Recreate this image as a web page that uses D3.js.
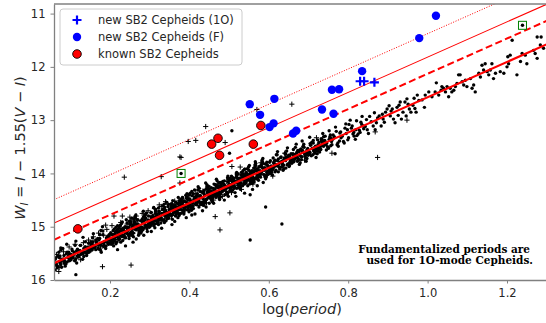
<!DOCTYPE html>
<html>
<head>
<meta charset="utf-8">
<script src="https://cdn.jsdelivr.net/npm/d3@7"></script>
<style>
  body { margin: 0; background: #fff; }
  svg { display: block; font-family: "DejaVu Sans", sans-serif; }
</style>
</head>
<body>
<div id="chart"></div>
<script>
// tick values
const xTicks = [0.2, 0.4, 0.6, 0.8, 1.0, 1.2];
const yTicks = [11, 12, 13, 14, 15, 16];

// PL relation W = a + b logP and the binary offsets drawn as red lines
const plZero = 15.88;
const plSlope = -3.31;
const lineOffsets = [0, -0.44, -0.753, -1.193];

const legendLabels = ['new SB2 Cepheids (1O)', 'new SB2 Cepheids (F)', 'known SB2 Cepheids'];
const noteLines = ['Fundamentalized periods are', 'used for 1O-mode Cepheids.'];

// new SB2 Cepheids, first overtone (fundamentalized periods)
const new1O = [[0.830, 12.27], [0.840, 12.27], [0.866, 12.29]];

// new SB2 Cepheids, fundamental mode
const newF = [
  [0.552, 12.70], [0.614, 12.60], [0.578, 12.90], [0.602, 13.13], [0.612, 13.06],
  [1.021, 11.04], [0.979, 11.46], [0.835, 12.08], [0.759, 12.43], [0.777, 12.42],
  [0.734, 12.80], [0.763, 12.88], [0.661, 13.25], [0.669, 13.20]
];

// known SB2 Cepheids
const knownSB2 = [[0.456, 13.45], [0.472, 13.34], [0.476, 13.66], [0.561, 13.45], [0.580, 13.10], [0.119, 15.04]];

// stars marked with green squares
const boxed = [[0.379, 14.00], [1.239, 11.22]];

// OGLE Cepheids, fundamental mode (dots)
const ogleF = [
  [0.061,15.68],[0.074,15.55],[0.067,15.77],[0.078,15.61],[0.064,15.72],[0.071,15.48],[0.077,15.65],[0.062,15.81],[0.072,15.58],[0.069,15.75],[0.076,15.40],[0.065,15.70],
  [0.081,15.41],[0.094,15.58],[0.087,15.74],[0.098,15.51],[0.084,15.68],[0.091,15.33],[0.097,15.63],[0.082,15.61],[0.092,15.48],[0.089,15.70],[0.096,15.54],[0.085,15.65],
  [0.101,15.62],[0.114,15.27],[0.107,15.57],[0.118,15.55],[0.104,15.42],[0.111,15.64],[0.117,15.48],[0.102,15.59],[0.112,15.35],[0.109,15.52],[0.116,15.68],[0.105,15.45],
  [0.121,15.57],[0.134,15.41],[0.127,15.52],[0.138,15.28],[0.124,15.45],[0.131,15.61],[0.137,15.38],[0.122,15.55],[0.132,15.20],[0.129,15.50],[0.136,15.48],[0.125,15.35],
  [0.141,15.54],[0.154,15.31],[0.147,15.48],[0.158,15.13],[0.144,15.43],[0.151,15.41],[0.157,15.28],[0.142,15.50],[0.152,15.34],[0.149,15.45],[0.156,15.21],[0.145,15.38],
  [0.161,15.39],[0.174,15.15],[0.167,15.32],[0.178,15.48],[0.164,15.25],[0.171,15.42],[0.177,15.07],[0.162,15.37],[0.172,15.35],[0.169,15.22],[0.176,15.44],[0.165,15.28],
  [0.181,15.00],[0.194,15.30],[0.187,15.28],[0.198,15.15],[0.184,15.37],[0.191,15.21],[0.197,15.32],[0.182,15.08],[0.192,15.25],[0.189,15.41],[0.196,15.18],[0.185,15.35],
  [0.201,15.21],[0.214,15.10],[0.207,15.31],[0.218,15.16],[0.204,15.25],[0.211,15.04],[0.217,15.19],[0.202,15.28],[0.212,15.13],[0.209,15.36],[0.216,15.08],[0.205,15.23],[0.219,14.98],[0.208,15.27],[0.213,15.18],[0.203,15.33],[0.215,15.01],[0.210,15.24],[0.206,15.15],[0.219,15.43],
  [0.221,15.21],[0.234,15.06],[0.227,15.29],[0.238,15.01],[0.224,15.16],[0.231,14.91],[0.237,15.20],[0.222,15.11],[0.232,15.26],[0.229,14.94],[0.236,15.17],[0.225,15.08],[0.239,15.36],[0.228,15.14],[0.233,15.03],[0.223,15.24],[0.235,15.09],[0.230,15.18],[0.226,14.97],[0.239,15.12],
  [0.241,14.87],[0.254,15.10],[0.247,15.01],[0.258,15.29],[0.244,15.07],[0.251,14.96],[0.257,15.17],[0.242,15.02],[0.252,15.11],[0.249,14.90],[0.256,15.05],[0.245,15.14],[0.259,14.99],[0.248,15.22],[0.253,14.94],[0.243,15.09],[0.255,14.84],[0.250,15.13],[0.246,15.04],[0.259,15.19],
  [0.261,14.90],[0.274,15.11],[0.267,14.96],[0.278,15.05],[0.264,14.84],[0.271,14.99],[0.277,15.08],[0.262,14.93],[0.272,15.16],[0.269,14.88],[0.276,15.03],[0.265,14.78],[0.279,15.07],[0.268,14.98],[0.273,15.13],[0.263,14.81],[0.275,15.04],[0.270,14.95],[0.266,15.23],[0.279,15.01],
  [0.281,14.86],[0.294,15.09],[0.287,14.81],[0.298,14.96],[0.284,14.71],[0.291,15.00],[0.297,14.91],[0.282,15.06],[0.292,14.74],[0.289,14.97],[0.296,14.88],[0.285,15.16],[0.299,14.94],[0.288,14.83],[0.293,15.04],[0.283,14.89],[0.295,14.98],[0.290,14.77],[0.286,14.92],[0.299,15.01],
  [0.301,14.99],[0.314,14.67],[0.307,14.90],[0.318,14.81],[0.304,15.09],[0.311,14.87],[0.317,14.76],[0.302,14.97],[0.312,14.82],[0.309,14.91],[0.316,14.70],[0.305,14.85],[0.319,14.94],[0.308,14.79],[0.313,15.02],[0.303,14.74],[0.315,14.89],[0.310,14.64],[0.306,14.93],[0.319,14.84],
  [0.321,14.91],[0.334,14.76],[0.327,14.85],[0.338,14.64],[0.324,14.79],[0.331,14.88],[0.337,14.73],[0.322,14.96],[0.332,14.68],[0.329,14.83],[0.336,14.58],[0.325,14.87],[0.339,14.78],[0.328,14.93],[0.333,14.61],[0.323,14.84],[0.335,14.75],[0.330,15.03],[0.326,14.81],[0.339,14.70],
  [0.341,14.89],[0.354,14.61],[0.347,14.76],[0.358,14.51],[0.344,14.80],[0.351,14.71],[0.357,14.86],[0.342,14.54],[0.352,14.77],[0.349,14.68],[0.356,14.96],[0.345,14.74],[0.359,14.63],[0.348,14.84],[0.353,14.69],[0.343,14.78],[0.355,14.57],[0.350,14.72],[0.346,14.81],[0.359,14.66],
  [0.361,14.72],[0.374,14.51],[0.367,14.66],[0.378,14.75],[0.364,14.60],[0.371,14.83],[0.377,14.55],[0.362,14.70],[0.372,14.45],[0.369,14.74],[0.376,14.65],[0.365,14.80],[0.379,14.48],[0.368,14.71],[0.373,14.62],[0.363,14.90],[0.375,14.68],[0.370,14.57],[0.366,14.78],[0.379,14.63],
  [0.381,14.63],[0.394,14.38],[0.387,14.67],[0.398,14.58],[0.384,14.73],[0.391,14.41],[0.397,14.64],[0.382,14.55],[0.392,14.83],[0.389,14.61],[0.396,14.50],[0.385,14.71],[0.399,14.56],[0.388,14.65],[0.393,14.44],[0.383,14.59],[0.395,14.68],[0.390,14.53],[0.386,14.76],[0.399,14.48],
  [0.401,14.48],[0.414,14.76],[0.407,14.54],[0.418,14.43],[0.404,14.64],[0.411,14.49],[0.417,14.58],[0.402,14.37],[0.412,14.52],[0.409,14.61],[0.416,14.46],[0.405,14.69],[0.419,14.41],[0.408,14.56],[0.413,14.31],[0.403,14.60],[0.415,14.51],[0.410,14.66],[0.406,14.34],[0.419,14.57],
  [0.421,14.31],[0.434,14.46],[0.427,14.55],[0.438,14.40],[0.424,14.63],[0.431,14.35],[0.437,14.50],[0.422,14.25],[0.432,14.54],[0.429,14.45],[0.436,14.60],[0.425,14.28],[0.439,14.51],[0.428,14.42],[0.433,14.70],[0.423,14.48],[0.435,14.37],[0.430,14.58],[0.426,14.43],[0.439,14.52],
  [0.441,14.18],[0.454,14.47],[0.447,14.38],[0.458,14.53],[0.444,14.21],[0.451,14.44],[0.457,14.35],[0.442,14.63],[0.452,14.41],[0.449,14.30],[0.456,14.51],[0.445,14.36],[0.459,14.45],[0.448,14.24],[0.453,14.39],[0.443,14.48],[0.455,14.33],[0.450,14.56],[0.446,14.28],[0.459,14.43],
  [0.461,14.56],[0.474,14.34],[0.467,14.23],[0.478,14.44],[0.464,14.29],[0.471,14.38],[0.477,14.17],[0.462,14.32],[0.472,14.41],[0.469,14.26],[0.476,14.49],[0.465,14.21],[0.479,14.36],[0.468,14.11],[0.473,14.40],[0.463,14.31],[0.475,14.46],[0.470,14.14],[0.466,14.37],[0.479,14.28],
  [0.481,14.26],[0.494,14.35],[0.487,14.20],[0.498,14.43],[0.484,14.15],[0.491,14.30],[0.497,14.05],[0.482,14.34],[0.492,14.25],[0.489,14.40],[0.496,14.08],[0.485,14.31],[0.499,14.22],[0.488,14.50],[0.493,14.28],[0.483,14.17],[0.495,14.38],[0.490,14.23],[0.486,14.32],[0.499,14.11],
  [0.501,14.27],[0.514,14.18],[0.507,14.33],[0.518,14.01],[0.504,14.24],[0.511,14.15],[0.517,14.43],[0.502,14.21],[0.512,14.10],[0.509,14.31],[0.516,14.16],[0.505,14.25],[0.519,14.04],[0.508,14.19],[0.513,14.28],[0.503,14.13],[0.515,14.36],[0.510,14.08],[0.506,14.23],[0.519,13.98],
  [0.521,14.15],[0.534,14.04],[0.527,14.25],[0.538,14.10],[0.524,14.19],[0.531,13.98],[0.537,14.13],[0.522,14.22],[0.532,14.07],[0.529,14.30],[0.536,14.02],[0.525,14.17],[0.539,13.92],[0.528,14.21],[0.533,14.12],[0.523,14.27],[0.535,13.95],[0.530,14.18],[0.526,14.09],[0.539,14.37],
  [0.541,14.15],[0.554,14.00],[0.547,14.23],[0.558,13.95],[0.544,14.10],[0.551,13.85],[0.557,14.14],[0.542,14.05],[0.552,14.20],[0.549,13.88],[0.556,14.11],[0.545,14.02],[0.559,14.30],[0.548,14.08],[0.553,13.97],[0.543,14.18],[0.555,14.03],[0.550,14.12],[0.546,13.91],[0.559,14.06],
  [0.561,13.98],[0.574,14.13],[0.567,13.81],[0.578,14.04],[0.564,13.95],[0.571,14.23],[0.577,14.01],[0.562,13.90],[0.572,14.11],[0.569,13.96],[0.576,14.05],[0.565,13.84],[0.579,13.99],[0.568,14.08],[0.573,13.93],[0.563,14.16],[0.575,13.88],[0.570,14.03],[0.566,13.78],[0.579,14.07],
  [0.581,13.84],[0.594,14.05],[0.587,13.90],[0.598,13.99],[0.584,13.78],[0.591,13.93],[0.597,14.02],[0.582,13.87],[0.592,14.10],[0.589,13.82],[0.596,13.97],[0.585,13.72],[0.599,14.01],[0.588,13.92],[0.593,14.07],[0.583,13.75],[0.595,13.98],[0.590,13.89],[0.586,14.17],[0.599,13.95],
  [0.601,13.88],[0.614,13.77],[0.607,13.98],[0.618,13.83],[0.604,13.92],[0.611,13.71],[0.617,13.86],[0.602,13.95],[0.612,13.80],[0.609,14.03],[0.616,13.75],[0.605,13.90],[0.619,13.65],[0.608,13.94],[0.613,13.85],[0.603,14.00],
  [0.621,13.65],[0.634,13.80],[0.627,13.89],[0.638,13.74],[0.624,13.97],[0.631,13.69],[0.637,13.84],[0.622,13.59],[0.632,13.88],[0.629,13.79],[0.636,13.94],[0.625,13.82],[0.639,13.71],[0.628,13.92],[0.633,13.77],[0.623,13.86],
  [0.641,13.62],[0.654,13.77],[0.647,13.52],[0.658,13.81],[0.644,13.72],[0.651,13.87],[0.657,13.75],[0.642,13.64],[0.652,13.85],[0.649,13.70],[0.656,13.79],[0.645,13.58],[0.659,13.73],[0.648,13.82],[0.653,13.67],[0.643,13.90],
  [0.661,13.63],[0.674,13.72],[0.667,13.51],[0.678,13.66],[0.664,13.75],[0.671,13.60],[0.677,13.83],[0.662,13.55],[0.672,13.70],[0.669,13.45],[0.676,13.74],[0.665,13.65],[0.679,13.80],[0.668,13.68],[0.673,13.57],[0.663,13.78],
  [0.681,13.54],[0.694,13.77],[0.687,13.49],[0.698,13.64],[0.684,13.39],[0.691,13.68],[0.697,13.59],[0.682,13.74],[0.692,13.62],[0.689,13.51],[0.696,13.72],[0.685,13.57],[0.699,13.66],[0.688,13.45],[0.693,13.60],[0.683,13.69],
  [0.701,13.61],[0.714,13.52],[0.707,13.67],[0.718,13.55],[0.704,13.44],[0.711,13.65],[0.717,13.50],[0.702,13.59],[0.712,13.38],[0.709,13.53],[0.716,13.62],[0.705,13.47],[0.719,13.70],[0.708,13.42],[0.713,13.57],[0.703,13.32],
  [0.721,13.58],[0.734,13.43],[0.727,13.52],[0.738,13.31],[0.724,13.46],[0.731,13.55],[0.737,13.40],[0.722,13.63],[0.732,13.35],[0.729,13.50],[0.736,13.25],[0.725,13.54],[0.739,13.45],[0.728,13.60],[0.733,13.48],[0.723,13.37],
  [0.742,13.43],[0.755,13.28],[0.748,13.50],[0.758,13.35],[0.745,13.56],[0.752,13.20],[0.759,13.46],[0.741,13.38],[0.750,13.53],[0.754,13.31],
  [0.762,13.28],[0.775,13.49],[0.768,13.13],[0.778,13.39],[0.765,13.31],[0.772,13.46],[0.779,13.24],[0.761,13.36],[0.770,13.21],[0.774,13.43],
  [0.782,13.33],[0.795,13.25],[0.788,13.40],[0.798,13.18],[0.785,13.30],[0.792,13.15],[0.799,13.37],[0.781,13.22],[0.790,13.43],[0.794,13.07],
  [0.802,13.08],[0.815,13.30],[0.808,13.15],[0.818,13.36],[0.805,13.00],[0.812,13.26],[0.819,13.18],[0.801,13.33],[0.810,13.11],[0.814,13.23],
  [0.822,13.29],[0.835,12.93],[0.828,13.19],[0.838,13.11],[0.825,13.26],[0.832,13.04],[0.839,13.16],[0.821,13.01],[0.830,13.23],[0.834,13.08],
  [0.843,13.12],[0.854,12.93],[0.848,13.18],[0.858,13.03],[0.851,13.25],[0.846,12.99],
  [0.863,13.11],[0.874,12.96],[0.868,13.18],[0.878,12.92],[0.871,13.05],[0.866,12.86],
  [0.883,13.11],[0.894,12.85],[0.888,12.98],[0.898,12.79],[0.891,13.04],[0.886,12.89],
  [0.903,12.73],[0.914,12.98],[0.908,12.83],[0.918,13.05],[0.911,12.79],[0.906,12.92],
  [0.923,12.76],[0.934,12.98],[0.928,12.72],[0.938,12.85],[0.931,12.66],[0.926,12.91],
  [0.943,12.66],[0.954,12.79],[0.948,12.60],[0.958,12.85],[0.951,12.70],[0.946,12.92],
  [0.963,12.72],[0.974,12.53],[0.968,12.78],[0.978,12.63],[0.971,12.85],[0.966,12.59],
  [0.986,12.62],[0.994,12.53],[1.003,12.47],[1.011,12.56],[1.019,12.47],[1.028,12.53],[1.036,12.37],[1.045,12.47],[1.057,12.40],[1.070,12.37],[0.992,12.76],
  [1.022,12.30],[1.034,12.44],[1.040,12.40],[1.049,12.37],[1.053,12.56],[1.061,12.47],[1.066,12.44],[1.074,12.31],[1.078,12.15],[1.082,12.15],
  [1.087,12.28],[1.091,12.34],[1.095,12.25],[1.099,12.37],[1.108,12.22],[1.112,12.40],[1.116,12.34],[1.120,12.47],[1.129,12.12],[1.133,12.19],
  [1.137,11.97],[1.141,12.06],[1.145,11.94],[1.150,12.09],[1.154,12.15],[1.158,12.06],[1.162,11.94],[1.166,12.22],[1.171,12.12],[1.183,12.09],
  [1.192,12.12],[1.200,12.00],[1.202,11.81],[1.204,11.94],[1.208,11.78],[1.213,11.50],[1.225,12.15],[1.234,11.90],[1.238,11.75],[1.246,11.78],
  [1.250,11.94],[1.267,11.69],[1.271,11.75],[1.276,11.84],[1.276,11.44],[1.284,11.59],[1.286,11.44],[1.292,11.65],
  [0.592,14.63],[0.553,15.25],[0.633,14.95],[0.767,13.63],[0.507,13.20],[0.501,13.62],[0.406,14.78],[0.553,14.40],
  [0.076,15.44],[0.114,15.90],[0.379,14.00],[1.239,11.22]
];

// more fundamental-mode stars in the crowded core of the relation
const ogleFcore = [
  [0.062,15.61],[0.066,15.73],[0.070,15.55],[0.074,15.68],[0.078,15.76],[0.064,15.58],[0.072,15.65],[0.076,15.71],
  [0.082,15.61],[0.086,15.69],[0.090,15.51],[0.094,15.58],[0.098,15.64],[0.084,15.54],[0.092,15.66],[0.096,15.48],
  [0.102,15.52],[0.106,15.58],[0.110,15.48],[0.114,15.60],[0.118,15.42],[0.104,15.55],[0.112,15.63],[0.116,15.45],
  [0.122,15.53],[0.126,15.35],[0.130,15.48],[0.134,15.56],[0.138,15.38],[0.124,15.45],[0.132,15.51],[0.136,15.41],
  [0.142,15.49],[0.146,15.31],[0.150,15.38],[0.154,15.44],[0.158,15.34],[0.144,15.46],[0.152,15.28],[0.156,15.41],
  [0.162,15.38],[0.166,15.28],[0.170,15.40],[0.174,15.22],[0.178,15.35],[0.164,15.43],[0.172,15.25],[0.176,15.32],
  [0.182,15.15],[0.186,15.28],[0.190,15.36],[0.194,15.18],[0.198,15.25],[0.184,15.31],[0.192,15.21],[0.196,15.33],
  [0.200,15.14],[0.204,15.26],[0.208,15.07],[0.213,15.20],[0.217,15.29],[0.202,15.11],[0.206,15.23],[0.210,15.17],[0.215,15.32],[0.219,15.05],[0.203,15.25],[0.207,15.15],[0.214,15.28],[0.218,15.09],
  [0.220,15.13],[0.224,15.22],[0.228,15.04],[0.233,15.16],[0.237,15.10],[0.222,15.25],[0.226,14.98],[0.230,15.18],[0.235,15.08],[0.239,15.21],[0.223,15.02],[0.227,15.07],[0.234,15.19],[0.238,15.00],
  [0.240,15.09],[0.244,15.03],[0.248,15.18],[0.253,14.91],[0.257,15.11],[0.242,15.01],[0.246,15.14],[0.250,14.95],[0.255,15.00],[0.259,15.12],[0.243,14.93],[0.247,15.06],[0.254,15.15],[0.258,14.97],
  [0.260,14.85],[0.264,15.05],[0.268,14.95],[0.273,15.08],[0.277,14.89],[0.262,14.94],[0.266,15.06],[0.270,14.87],[0.275,15.00],[0.279,15.09],[0.263,14.91],[0.267,15.03],[0.274,14.97],[0.278,15.12],
  [0.280,15.01],[0.284,14.82],[0.288,14.87],[0.293,14.99],[0.297,14.80],[0.282,14.93],[0.286,15.02],[0.290,14.84],[0.295,14.96],[0.299,14.90],[0.283,15.05],[0.287,14.78],[0.294,14.98],[0.298,14.88],
  [0.300,14.92],[0.304,14.73],[0.308,14.86],[0.313,14.95],[0.317,14.77],[0.302,14.89],[0.306,14.83],[0.310,14.98],[0.315,14.71],[0.319,14.91],[0.303,14.81],[0.307,14.94],[0.314,14.75],[0.318,14.80],
  [0.320,14.89],[0.324,14.71],[0.328,14.83],[0.333,14.77],[0.337,14.92],[0.322,14.65],[0.326,14.85],[0.330,14.75],[0.335,14.88],[0.339,14.69],[0.323,14.74],[0.327,14.86],[0.334,14.67],[0.338,14.80],
  [0.340,14.70],[0.344,14.85],[0.348,14.58],[0.353,14.78],[0.357,14.68],[0.342,14.81],[0.346,14.62],[0.350,14.67],[0.355,14.79],[0.359,14.60],[0.343,14.73],[0.347,14.82],[0.354,14.64],[0.358,14.76],
  [0.360,14.72],[0.364,14.62],[0.368,14.75],[0.373,14.56],[0.377,14.61],[0.362,14.73],[0.366,14.54],[0.370,14.67],[0.375,14.76],[0.379,14.58],[0.363,14.70],[0.367,14.64],[0.374,14.79],[0.378,14.52],
  [0.380,14.49],[0.384,14.54],[0.388,14.66],[0.393,14.47],[0.397,14.60],[0.382,14.69],[0.386,14.51],[0.390,14.63],[0.395,14.57],[0.399,14.72],[0.383,14.45],[0.387,14.65],[0.394,14.55],[0.398,14.68],
  [0.400,14.40],[0.404,14.53],[0.408,14.62],[0.413,14.44],[0.417,14.56],[0.402,14.50],[0.406,14.65],[0.410,14.38],[0.415,14.58],[0.419,14.48],[0.403,14.61],[0.407,14.42],[0.414,14.47],[0.418,14.59],
  [0.420,14.38],[0.424,14.50],[0.428,14.44],[0.433,14.59],[0.437,14.32],[0.422,14.52],[0.426,14.42],[0.430,14.55],[0.435,14.36],[0.439,14.41],[0.423,14.53],[0.427,14.34],[0.434,14.47],[0.438,14.56],
  [0.440,14.52],[0.444,14.25],[0.448,14.45],[0.453,14.35],[0.457,14.48],[0.442,14.29],[0.446,14.34],[0.450,14.46],[0.455,14.27],[0.459,14.40],[0.443,14.49],[0.447,14.31],[0.454,14.43],[0.458,14.37],
  [0.460,14.28],[0.464,14.41],[0.468,14.22],[0.473,14.27],[0.477,14.39],[0.462,14.20],[0.466,14.33],[0.470,14.42],[0.475,14.24],[0.479,14.36],[0.463,14.30],[0.467,14.45],[0.474,14.18],[0.478,14.38],
  [0.480,14.21],[0.484,14.33],[0.488,14.14],[0.493,14.27],[0.497,14.36],[0.482,14.18],[0.486,14.30],[0.490,14.24],[0.495,14.39],[0.499,14.12],[0.483,14.32],[0.487,14.22],[0.494,14.35],[0.498,14.16],
  [0.500,14.20],[0.504,14.29],[0.508,14.11],[0.513,14.23],[0.517,14.17],[0.502,14.32],[0.506,14.05],[0.510,14.25],[0.515,14.15],[0.519,14.28],[0.503,14.09],[0.507,14.14],[0.514,14.26],[0.518,14.07],
  [0.520,14.17],[0.524,14.11],[0.528,14.26],[0.533,13.99],[0.537,14.19],[0.522,14.09],[0.526,14.22],[0.530,14.03],[0.535,14.08],[0.539,14.20],[0.523,14.01],[0.527,14.14],[0.534,14.23],[0.538,14.05],
  [0.540,13.92],[0.544,14.12],[0.548,14.02],[0.553,14.15],[0.557,13.96],[0.542,14.01],[0.546,14.13],[0.550,13.94],[0.555,14.07],[0.559,14.16],[0.543,13.98],[0.547,14.10],[0.554,14.04],[0.558,14.19],
  [0.560,14.08],[0.564,13.89],[0.568,13.94],[0.573,14.06],[0.577,13.87],[0.562,14.00],[0.566,14.09],[0.570,13.91],[0.575,14.03],[0.579,13.97],[0.563,14.12],[0.567,13.85],[0.574,14.05],[0.578,13.95],
  [0.580,14.00],[0.584,13.81],[0.588,13.94],[0.593,14.03],[0.597,13.85],[0.582,13.97],[0.586,13.91],[0.590,14.06],[0.595,13.79],[0.599,13.99],[0.583,13.89],[0.587,14.02],[0.594,13.83],[0.598,13.88],
  [0.602,13.79],[0.606,13.86],[0.610,13.92],[0.614,13.82],[0.618,13.94],[0.604,13.76],[0.612,13.89],[0.616,13.97],
  [0.622,13.76],[0.626,13.88],[0.630,13.70],[0.634,13.83],[0.638,13.91],[0.624,13.73],[0.632,13.80],[0.636,13.86],
  [0.642,13.76],[0.646,13.84],[0.650,13.66],[0.654,13.73],[0.658,13.79],[0.644,13.69],[0.652,13.81],[0.656,13.63],
  [0.662,13.66],[0.666,13.72],[0.670,13.62],[0.674,13.74],[0.678,13.56],[0.664,13.69],[0.672,13.77],[0.676,13.59],
  [0.682,13.68],[0.686,13.50],[0.690,13.63],[0.694,13.71],[0.698,13.53],[0.684,13.60],[0.692,13.66],[0.696,13.56],
  [0.702,13.64],[0.706,13.46],[0.710,13.53],[0.714,13.59],[0.718,13.49],[0.704,13.61],[0.712,13.43],[0.716,13.56],
  [0.722,13.52],[0.726,13.42],[0.730,13.54],[0.734,13.36],[0.738,13.49],[0.724,13.57],[0.732,13.39],[0.736,13.46],
  [0.742,13.30],[0.746,13.43],[0.750,13.51],[0.754,13.33],[0.758,13.40],[0.744,13.46],[0.752,13.36],[0.756,13.48]
];

// OGLE Cepheids, first overtone with fundamentalized periods (pluses)
const ogle1O = [
  [0.065,15.52],[0.072,15.76],[0.083,15.47],[0.088,15.66],[0.097,15.38],[0.104,15.60],[0.112,15.33],[0.118,15.55],[0.126,15.62],[0.133,15.30],
  [0.139,15.47],[0.146,15.25],[0.152,15.44],[0.158,15.19],[0.163,15.36],[0.171,15.12],[0.176,15.40],[0.184,15.16],[0.192,15.05],[0.197,15.30],
  [0.205,14.98],[0.213,15.24],[0.219,15.08],[0.227,14.92],[0.236,15.19],[0.243,14.95],[0.251,14.88],[0.258,15.12],[0.266,14.80],[0.273,15.06],
  [0.281,14.75],[0.289,14.97],[0.296,14.70],[0.305,14.92],[0.312,14.66],[0.321,14.88],[0.329,14.62],[0.338,14.85],[0.346,14.58],[0.355,14.79],
  [0.363,14.52],[0.372,14.74],[0.381,14.47],[0.389,14.70],[0.398,14.42],[0.407,14.66],[0.416,14.38],[0.425,14.60],[0.434,14.33],[0.443,14.55],
  [0.452,14.27],[0.461,14.50],[0.472,14.20],[0.483,14.43],[0.494,14.15],[0.506,14.36],[0.518,14.08],[0.531,14.30],[0.545,14.00],[0.560,14.20],
  [0.580,13.80],[0.610,14.05],[0.640,13.62],[0.690,13.75],[0.720,13.33],
  [0.441,13.12],[0.397,13.40],[0.416,13.38],[0.490,13.42],[0.658,12.70],[0.376,13.69],[0.236,14.07],[0.329,14.06],[0.379,13.70],[0.376,14.18],
  [0.340,14.53],[0.181,15.75],[0.253,15.72],[0.465,14.81],[0.502,14.74],[0.477,15.06],[0.874,13.70],[0.759,13.62],[0.507,13.87],[0.528,13.88],
  [0.071,15.84],[0.210,14.80],[0.231,14.80],[0.250,14.82],[0.324,14.59],[0.357,14.56],[0.189,14.97],[0.948,13.00],[0.868,13.22],[0.570,12.80]
];

const width = 546, height = 323;
const svg = d3.select('#chart').append('svg')
  .attr('width', width)
  .attr('height', height);

const x = d3.scaleLinear().domain([0.0589, 1.3]).range([54, 546.7]);
const y = d3.scaleLinear().domain([10.82, 16]).range([4, 280]);

svg.append('clipPath').attr('id', 'clip')
  .append('rect').attr('x', 54).attr('y', 4).attr('width', 493).attr('height', 276);

const plot = svg.append('g').attr('clip-path', 'url(#clip)');

// plus path for '+' markers
const plus = s => `M${-s},0H${s}M0,${-s}V${s}`;

// OGLE dots
plot.selectAll('circle.ogle')
  .data(ogleF.concat(ogleFcore))
  .enter().append('circle')
  .attr('class', 'ogle')
  .attr('cx', d => x(d[0]))
  .attr('cy', d => y(d[1]))
  .attr('r', 1.7)
  .attr('fill', '#000');

// OGLE pluses
plot.selectAll('path.ogle1o')
  .data(ogle1O)
  .enter().append('path')
  .attr('class', 'ogle1o')
  .attr('transform', d => `translate(${x(d[0])},${y(d[1])})`)
  .attr('d', plus(2.6))
  .attr('stroke', '#000')
  .attr('stroke-width', 1);

// PL relation and shifted relations
const lineStyle = [
  { w: 2.2, dash: null },
  { w: 2, dash: '7,3.5' },
  { w: 1.1, dash: null },
  { w: 1, dash: '1,1.6' }
];
const ends = x.domain();
lineOffsets.forEach((off, i) => {
  const pts = ends.map(p => [x(p), y(plZero + plSlope * p + off)]);
  plot.append('path')
    .attr('d', d3.line()(pts))
    .attr('fill', 'none')
    .attr('stroke', '#ff0000')
    .attr('stroke-width', lineStyle[i].w)
    .attr('stroke-dasharray', lineStyle[i].dash);
});

// known SB2
plot.selectAll('circle.known')
  .data(knownSB2)
  .enter().append('circle')
  .attr('cx', d => x(d[0]))
  .attr('cy', d => y(d[1]))
  .attr('r', 4.3)
  .attr('fill', '#ff0000')
  .attr('stroke', '#000')
  .attr('stroke-width', 0.9);

// new F
plot.selectAll('circle.newf')
  .data(newF)
  .enter().append('circle')
  .attr('cx', d => x(d[0]))
  .attr('cy', d => y(d[1]))
  .attr('r', 4.2)
  .attr('fill', '#0000ff');

// new 1O
plot.selectAll('path.new1o')
  .data(new1O)
  .enter().append('path')
  .attr('transform', d => `translate(${x(d[0])},${y(d[1])})`)
  .attr('d', plus(4.5))
  .attr('stroke', '#0000ff')
  .attr('stroke-width', 2.2);

// green boxes
plot.selectAll('rect.box')
  .data(boxed)
  .enter().append('rect')
  .attr('x', d => x(d[0]) - 4)
  .attr('y', d => y(d[1]) - 4)
  .attr('width', 8)
  .attr('height', 8)
  .attr('fill', 'none')
  .attr('stroke', '#008000')
  .attr('stroke-width', 1);

// axes
const axisColor = '#808080';
const gx = svg.append('g')
  .attr('transform', 'translate(0,280)')
  .call(d3.axisBottom(x).tickValues(xTicks).tickFormat(d3.format('.1f')).tickSize(3.5).tickPadding(5).tickSizeOuter(0));
const gy = svg.append('g')
  .attr('transform', 'translate(54,0)')
  .call(d3.axisLeft(y).tickValues(yTicks).tickFormat(d3.format('d')).tickSize(3.5).tickPadding(5).tickSizeOuter(0));
[gx, gy].forEach(g => {
  g.select('.domain').attr('stroke', axisColor).attr('stroke-width', 1.3);
  g.selectAll('.tick line').attr('stroke', axisColor).attr('stroke-width', 1);
  g.selectAll('.tick text').attr('font-size', 11.5).attr('fill', '#262626').attr('font-family', 'DejaVu Sans');
});
// top spine
svg.append('line')
  .attr('x1', 54).attr('x2', 547).attr('y1', 4).attr('y2', 4)
  .attr('stroke', axisColor).attr('stroke-width', 1.3);

// axis labels
const xl = svg.append('text')
  .attr('x', 302).attr('y', 314)
  .attr('text-anchor', 'middle')
  .attr('font-size', 14.5)
  .attr('fill', '#262626');
xl.append('tspan').text('log(');
xl.append('tspan').attr('font-style', 'italic').text('period');
xl.append('tspan').text(')');

const yl = svg.append('text')
  .attr('transform', 'translate(25,148) rotate(-90)')
  .attr('text-anchor', 'middle')
  .attr('font-size', 14.5)
  .attr('fill', '#262626');
yl.append('tspan').attr('font-style', 'italic').text('W');
yl.append('tspan').attr('font-style', 'italic').attr('font-size', 10).attr('dy', 3).text('I');
yl.append('tspan').attr('dy', -3).text(' = ');
yl.append('tspan').attr('font-style', 'italic').text('I');
yl.append('tspan').text(' \u2212 1.55(');
yl.append('tspan').attr('font-style', 'italic').text('V');
yl.append('tspan').text(' \u2212 ');
yl.append('tspan').attr('font-style', 'italic').text('I');
yl.append('tspan').text(')');

// note
svg.selectAll('text.note')
  .data(noteLines)
  .enter().append('text')
  .attr('class', 'note')
  .attr('x', (d, i) => i === 0 ? 530 : 533)
  .attr('y', (d, i) => 253 + i * 11)
  .attr('text-anchor', 'end')
  .attr('font-family', 'DejaVu Serif')
  .attr('font-weight', 'bold')
  .attr('font-size', 10.5)
  .attr('fill', '#000')
  .text(d => d);

// legend
const lg = svg.append('g');
lg.append('rect')
  .attr('x', 60).attr('y', 9).attr('width', 182).attr('height', 56)
  .attr('rx', 3)
  .attr('fill', '#fff').attr('fill-opacity', 0.8)
  .attr('stroke', '#cccccc').attr('stroke-width', 1);
const rows = lg.selectAll('g.row')
  .data(legendLabels)
  .enter().append('g')
  .attr('transform', (d, i) => `translate(77,${20 + i * 17})`);
rows.each(function (d, i) {
  const g = d3.select(this);
  if (i === 0) {
    g.append('path').attr('d', plus(4.5)).attr('stroke', '#0000ff').attr('stroke-width', 2.2);
  } else if (i === 1) {
    g.append('circle').attr('r', 4.2).attr('fill', '#0000ff');
  } else {
    g.append('circle').attr('r', 4.3).attr('fill', '#ff0000').attr('stroke', '#000').attr('stroke-width', 0.9);
  }
  g.append('text')
    .attr('x', 21).attr('y', 4)
    .attr('font-size', 11.5)
    .attr('fill', '#262626')
    .text(d);
});
</script>
</body>
</html>
